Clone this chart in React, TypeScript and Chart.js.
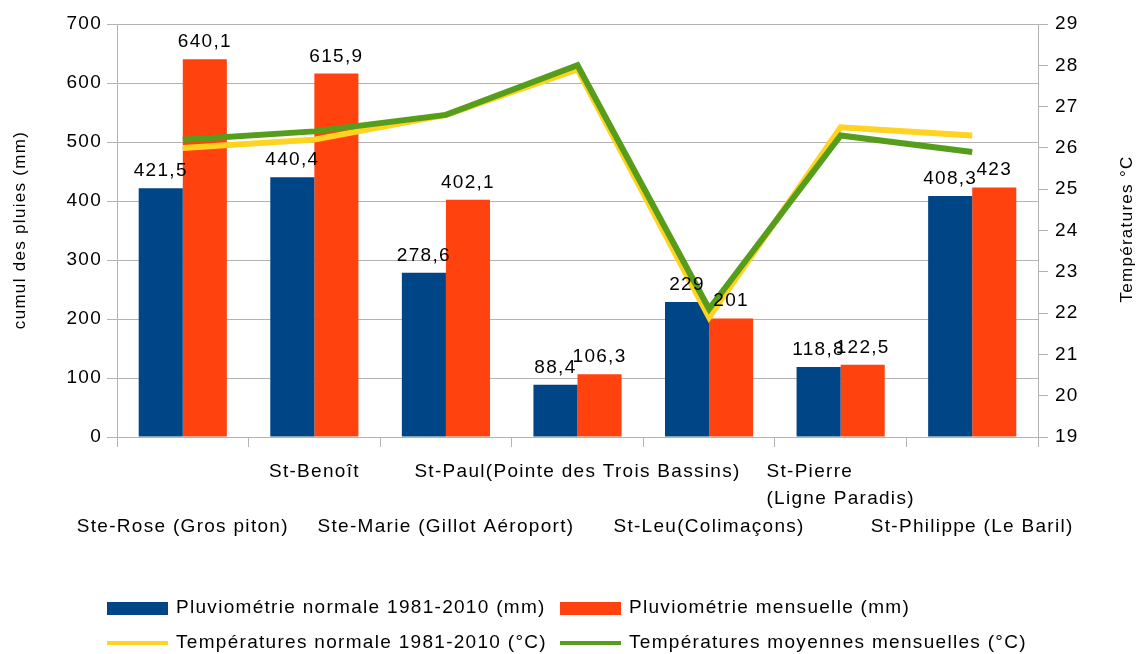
import React, { useEffect, useRef } from "react";
import { Chart, registerables } from "chart.js";

Chart.register(...registerables);

const categories = [
  "Ste-Rose (Gros piton)",
  "St-Benoît",
  "Ste-Marie (Gillot Aéroport)",
  "St-Paul(Pointe des Trois Bassins)",
  "St-Leu(Colimaçons)",
  "St-Pierre\n(Ligne Paradis)",
  "St-Philippe (Le Baril)",
];
const rainNormal = [421.5, 440.4, 278.6, 88.4, 229, 118.8, 408.3];
const rainMonthly = [640.1, 615.9, 402.1, 106.3, 201, 122.5, 423];
const tempNormal = [26.0, 26.2, 26.8, 27.9, 21.9, 26.5, 26.3];
const tempMonthly = [26.2, 26.4, 26.8, 28.0, 22.1, 26.3, 25.9];
const seriesLabels = [
  "Pluviométrie normale 1981-2010 (mm)",
  "Pluviométrie mensuelle (mm)",
  "Températures normale 1981-2010 (°C)",
  "Températures moyennes mensuelles (°C)",
];
const leftTitle = "cumul des pluies (mm)";
const rightTitle = "Températures °C";

const BLUE = "#004586";
const ORANGE = "#ff420e";
const YELLOW = "#ffd320";
const GREEN = "#579d1c";
const GRID = "#b3b3b3";
const FONT = "'Liberation Sans', Arial, sans-serif";
const LS = "1.3px";
const FS = 19;

const fmt = (v: number) => String(v).replace(".", ",");

const customPlugin = {
  id: "customDraw",
  beforeDraw(chart: any) {
    chart.ctx.letterSpacing = LS;
  },
  afterDatasetsDraw(chart: any) {
    const ctx = chart.ctx;
    ctx.save();
    ctx.letterSpacing = LS;
    ctx.font = `${FS}px ${FONT}`;
    ctx.fillStyle = "#000";
    ctx.textAlign = "center";
    ctx.textBaseline = "alphabetic";
    [0, 1].forEach((di) => {
      const meta = chart.getDatasetMeta(di);
      const data = chart.data.datasets[di].data as number[];
      meta.data.forEach((el: any, i: number) => {
        ctx.fillText(fmt(data[i]), el.x, el.y - 12);
      });
    });
    ctx.restore();
  },
  afterDraw(chart: any) {
    const ctx = chart.ctx;
    const xs = chart.scales.x;
    ctx.save();
    ctx.letterSpacing = LS;
    ctx.fillStyle = "#000";
    ctx.font = `${FS}px ${FONT}`;
    ctx.textBaseline = "middle";
    const lbls = chart.data.labels as string[];
    lbls.forEach((lab, i) => {
      const cx = xs.getPixelForValue(i);
      const lines = lab.split("\n");
      const y0 = i % 2 === 0 ? 527 : 472;
      const w = Math.max(...lines.map((l) => ctx.measureText(l).width));
      ctx.textAlign = "left";
      lines.forEach((l, k) => {
        ctx.fillText(l, cx - w / 2, y0 + k * 27);
      });
    });
    ctx.font = `17px ${FONT}`;
    ctx.textAlign = "center";
    ctx.save();
    ctx.translate(20, 230);
    ctx.rotate(-Math.PI / 2);
    ctx.fillText(leftTitle, 0, 0);
    ctx.restore();
    ctx.save();
    ctx.translate(1127, 229);
    ctx.rotate(-Math.PI / 2);
    ctx.fillText(rightTitle, 0, 0);
    ctx.restore();
    ctx.font = `${FS}px ${FONT}`;
    ctx.textAlign = "left";
    const ds = chart.data.datasets;
    const cols = [107, 560];
    const rows = [608, 643];
    ds.forEach((d: any, i: number) => {
      const x = cols[i % 2];
      const y = rows[Math.floor(i / 2)];
      if (d.type === "line") {
        ctx.fillStyle = d.borderColor;
        ctx.fillRect(x, y - 2, 61, 4);
      } else {
        ctx.fillStyle = d.backgroundColor;
        ctx.fillRect(x, y - 6, 61, 13);
      }
      ctx.fillStyle = "#000";
      ctx.fillText(d.label, x + 69, y);
    });
    ctx.restore();
  },
};

export default function App() {
  const ref = useRef<HTMLCanvasElement | null>(null);
  useEffect(() => {
    document.body.style.margin = "0";
    Chart.defaults.font.family = FONT;
    const chart = new Chart(ref.current as HTMLCanvasElement, {
      type: "bar",
      data: {
        labels: categories,
        datasets: [
          {
            type: "bar",
            label: seriesLabels[0],
            data: rainNormal,
            backgroundColor: BLUE,
            yAxisID: "y",
            order: 2,
            categoryPercentage: 0.67,
            barPercentage: 1,
          },
          {
            type: "bar",
            label: seriesLabels[1],
            data: rainMonthly,
            backgroundColor: ORANGE,
            yAxisID: "y",
            order: 3,
            categoryPercentage: 0.67,
            barPercentage: 1,
          },
          {
            type: "line",
            label: seriesLabels[2],
            data: tempNormal,
            borderColor: YELLOW,
            backgroundColor: YELLOW,
            borderWidth: 6,
            pointRadius: 0,
            tension: 0,
            yAxisID: "y1",
            order: 1,
          },
          {
            type: "line",
            label: seriesLabels[3],
            data: tempMonthly,
            borderColor: GREEN,
            backgroundColor: GREEN,
            borderWidth: 6,
            pointRadius: 0,
            tension: 0,
            yAxisID: "y1",
            order: 0,
          },
        ] as any,
      },
      options: {
        animation: false,
        responsive: true,
        maintainAspectRatio: false,
        layout: { padding: { top: 24, left: 0, right: 0, bottom: 0 } },
        plugins: { legend: { display: false }, tooltip: { enabled: false } },
        scales: {
          x: {
            offset: true,
            grid: {
              offset: true,
              drawOnChartArea: false,
              drawTicks: true,
              tickLength: 10,
              color: GRID,
            },
            border: { display: true, color: GRID },
            ticks: { display: false },
            afterFit: (s: any) => {
              s.height = 217;
            },
          },
          y: {
            position: "left",
            min: 0,
            max: 700,
            ticks: {
              stepSize: 100,
              color: "#000",
              font: { size: FS, family: FONT },
              padding: 5,
            },
            grid: { color: GRID, tickLength: 10 },
            border: { color: GRID },
            afterFit: (s: any) => {
              s.width = 117;
            },
          },
          y1: {
            position: "right",
            min: 19,
            max: 29,
            ticks: {
              stepSize: 1,
              color: "#000",
              font: { size: FS, family: FONT },
              padding: 7,
            },
            grid: { drawOnChartArea: false, color: GRID, tickLength: 10 },
            border: { color: GRID },
            afterFit: (s: any) => {
              s.width = 100;
            },
          },
        },
      } as any,
      plugins: [customPlugin],
    });
    return () => chart.destroy();
  }, []);
  return (
    <div style={{ position: "relative", width: "1138px", height: "654px" }}>
      <canvas ref={ref} />
    </div>
  );
}
